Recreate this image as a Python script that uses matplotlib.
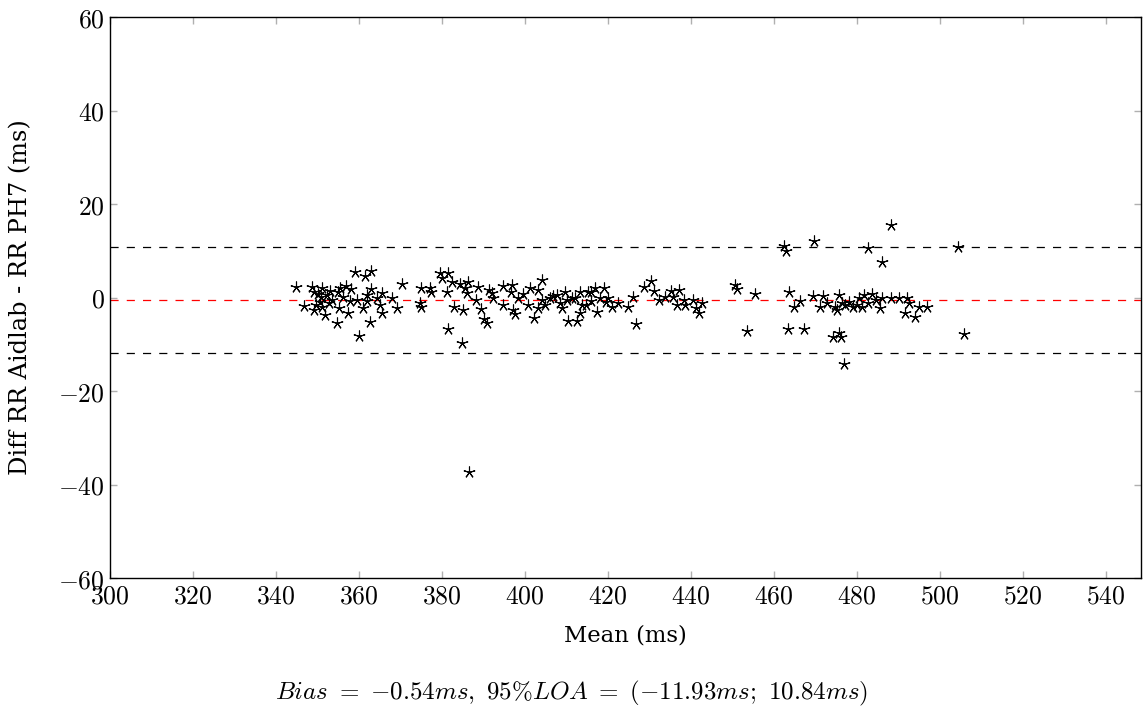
import numpy as np
import matplotlib.pyplot as plt
from matplotlib.ticker import FuncFormatter, MultipleLocator

### Bland-Altman data: mean of both devices vs difference (ms)
mean_rr = [
    344.8, 346.7, 348.7, 349.2, 349.6, 349.2, 351.2, 351.7, 350.6, 352.2,
    350.2, 351.0, 352.8, 353.5, 354.6, 355.0, 355.4, 356.8, 355.2, 357.4,
    356.2, 358.0, 359.0, 360.0, 361.4, 363.0, 361.0, 362.7, 363.0, 361.9,
    365.5, 365.1, 365.5, 368.0, 369.1, 370.4, 374.9, 374.7, 374.9, 377.1,
    377.4, 379.5, 381.5, 379.9, 381.4, 382.3, 381.1, 384.3, 384.7, 386.3,
    385.1, 385.5, 386.5, 388.7, 388.3, 389.3, 390.1, 390.8, 391.4, 392.2,
    394.8, 394.8, 396.8, 396.6, 397.2, 397.6, 398.4, 400.6, 401.2, 402.2,
    403.2, 404.1, 403.0, 404.1, 404.8, 406.0, 407.6, 408.4, 408.8, 409.6,
    410.4, 412.4, 412.0, 413.3, 413.7, 413.3, 414.7, 415.2, 416.9, 418.9,
    417.3, 416.0, 418.0, 420.1, 420.9, 422.5, 424.9, 425.9, 426.7, 428.7,
    430.3, 431.1, 432.3, 433.7, 435.1, 437.1, 435.6, 436.6, 438.6, 438.2,
    440.4, 441.2, 441.8, 442.6, 450.6, 451.0, 455.4, 453.4, 462.4, 462.8,
    463.5, 463.3, 464.9, 466.3, 467.2, 469.7, 469.4, 471.7, 471.1, 475.7,
    474.7, 475.2, 476.3, 479.1, 481.1, 481.7, 483.7, 482.7, 482.7, 486.1,
    488.1, 486.1, 488.1, 490.1, 492.1, 492.6, 491.6, 494.0, 494.9, 496.9,
    504.4, 505.8, 474.1, 476.0, 475.7, 476.9, 485.4, 478.0, 480.0, 477.0,
    357.8, 359.5, 353.0, 350.8, 362.0, 364.3, 383.0, 386.0, 392.0, 399.5,
    406.8, 410.0, 415.8, 419.5, 411.2, 472.8, 480.4, 484.5,
]
diff_rr = [
    2.2, -1.75, 2.2, 1.2, -1.6, -2.7, 2.0, -3.7, -0.9, 0.5,
    0.8, -2.0, -1.2, -0.5, -5.5, 1.2, 2.0, 2.5, -2.3, -3.2,
    0.2, 1.8, 5.5, -8.2, 4.7, 5.7, -2.3, -5.2, 1.8, 0.5,
    0.9, -1.6, -3.4, -0.2, -2.3, 2.8, 2.0, -1.2, -2.0, 2.0,
    1.2, 5.2, 5.2, 4.1, -6.7, 3.4, 1.2, 3.0, -9.8, 3.4,
    -2.7, 2.0, -37.3, 2.3, -0.6, -2.5, -4.5, -5.5, 1.6, -0.2,
    -1.6, 2.5, 2.7, 1.2, -2.7, -3.6, -0.2, -1.5, 2.0, -4.3,
    1.6, 3.7, -2.3, -0.5, -1.5, -0.2, 0.5, -1.2, -2.3, 1.1,
    -5.0, -5.0, -0.2, 1.1, -1.6, -3.4, -1.6, 1.1, 2.0, 2.0,
    -3.0, -0.8, -0.2, -0.2, -2.0, -1.2, -2.0, 0.2, -5.7, 2.2,
    3.6, 1.5, -0.5, 0.2, 1.5, 1.6, 0.2, -1.6, -1.6, -0.5,
    -0.5, -2.3, -3.4, -1.2, 2.7, 1.75, 0.75, -7.1, 11.0, 9.9,
    1.1, -6.8, -2.0, -0.7, -6.7, 12.1, 0.3, 0.3, -2.0, 0.5,
    -2.0, -2.7, -1.2, -2.1, -2.1, 0.5, 0.75, -1.1, 10.5, 7.6,
    15.5, -0.2, -0.2, -0.2, -0.2, -1.2, -3.2, -4.1, -2.1, -2.1,
    10.9, -7.8, -8.4, -8.4, -7.5, -14.3, -2.3, -1.0, -1.5, -1.6,
    -0.8, -0.5, 1.5, 0.2, -0.8, 0.0, -2.0, 1.0, 1.0, 0.8,
    0.3, -0.5, 1.2, -1.0, 0.0, -1.2, 0.0, -0.6,
]

bias = -0.54
loa_low = -11.93
loa_high = 10.84

plt.rcParams['mathtext.fontset'] = 'cm'
plt.rcParams['font.family'] = 'DejaVu Serif'

fig = plt.figure(figsize=(11.43, 7.11), dpi=100)
ax = fig.add_axes([0.0962, 0.187, 0.9021, 0.789])

ax.plot(mean_rr, diff_rr, linestyle='none', marker=(5, 2, 0), markersize=8.5,
        markeredgewidth=0.8, color='black', zorder=3)

### bias and limits of agreement
dash = (0, (6.5, 6.5))
ax.axhline(bias, color='red', linestyle=dash, linewidth=0.9, zorder=2)
ax.axhline(loa_high, color='black', linestyle=dash, linewidth=0.9, zorder=2)
ax.axhline(loa_low, color='black', linestyle=dash, linewidth=0.9, zorder=2)

ax.set_xlim(300, 548.4)
ax.set_ylim(-60, 60)
ax.xaxis.set_major_locator(MultipleLocator(20))
ax.yaxis.set_major_locator(MultipleLocator(20))
ax.xaxis.set_major_formatter(FuncFormatter(lambda v, p: r'$%d$' % v if v <= 540 else ''))
ax.yaxis.set_major_formatter(FuncFormatter(lambda v, p: r'$%d$' % v))
ax.tick_params(direction='in', length=5, width=1, color='#b0b0b0',
               top=True, right=True, labelsize=18.5, pad=4)
for s in ax.spines.values():
    s.set_linewidth(1.0)

ax.set_xlabel('Mean (ms)', fontsize=16.4)
ax.set_ylabel('Diff RR Aidlab - RR PH7 (ms)', fontsize=17.4)
ax.xaxis.set_label_coords(0.5, -0.082)
ax.yaxis.set_label_coords(-0.0757, 0.5)

fig.text(0.5, 0.024, r'$Bias\ =\ {-}0.54ms,\ 95\%LOA\ =\ ({-}11.93ms;\ 10.84ms)$',
         ha='center', va='center', fontsize=18)

fig.savefig('out.png', dpi=100)
